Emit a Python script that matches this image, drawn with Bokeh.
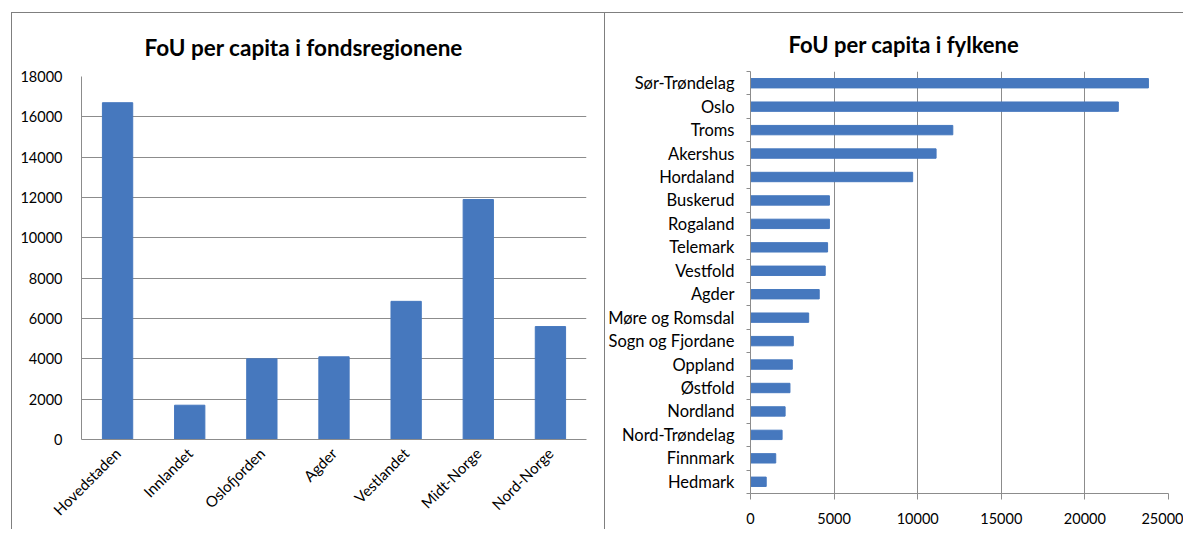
import math
from bokeh.plotting import figure
from bokeh.layouts import row, column
from bokeh.models import FactorRange, Range1d, FixedTicker
from bokeh.embed import file_html
from bokeh.resources import INLINE

# ---- data ----
regions = ["Hovedstaden", "Innlandet", "Oslofjorden", "Agder", "Vestlandet", "Midt-Norge", "Nord-Norge"]
region_values = [16700, 1700, 4000, 4100, 6850, 11900, 5600]
region_ticks = [0, 2000, 4000, 6000, 8000, 10000, 12000, 14000, 16000, 18000]

counties = ["Sør-Trøndelag", "Oslo", "Troms", "Akershus", "Hordaland", "Buskerud", "Rogaland",
            "Telemark", "Vestfold", "Agder", "Møre og Romsdal", "Sogn og Fjordane", "Oppland",
            "Østfold", "Nordland", "Nord-Trøndelag", "Finnmark", "Hedmark"]
county_values = [23800, 22000, 12100, 11100, 9700, 4720, 4720, 4610, 4470, 4110, 3480, 2560,
                 2500, 2360, 2070, 1890, 1510, 940]
county_ticks = [0, 5000, 10000, 15000, 20000, 25000]

BLUE = "#4678BE"
GRID = "#8C8C8C"
BORDER = "#7F7F7F"
FONT = "Lato"

# ---- left chart ----
p1 = figure(x_range=FactorRange(*regions), y_range=Range1d(0, 18000),
            width=594, height=517, output_backend="svg", toolbar_location=None,
            min_border_left=69, min_border_right=20, min_border_top=63, min_border_bottom=91,
            styles={"border-left": f"1px solid {BORDER}", "border-top": f"1px solid {BORDER}",
                    "border-right": f"1px solid {BORDER}"})
p1.vbar(x=regions, top=region_values, width=0.42, color=BLUE)
p1.title.text = "FoU per capita i fondsregionene"
p1.title.align = "left"
p1.title.offset = 63
p1.title.standoff = 32
p1.title.text_font = FONT
p1.title.text_font_size = "22.5px"
p1.title.text_font_style = "bold"
p1.title.text_color = "#000000"
p1.outline_line_color = None
p1.xgrid.grid_line_color = None
p1.ygrid.grid_line_color = GRID
p1.yaxis.ticker = FixedTicker(ticks=region_ticks)
p1.yaxis.major_tick_line_color = None
p1.yaxis.minor_tick_line_color = None
p1.yaxis.axis_line_color = GRID
p1.yaxis.major_label_standoff = 13
p1.xaxis.major_tick_line_color = None
p1.xaxis.axis_line_color = GRID
p1.xaxis.major_label_orientation = math.pi / 4
p1.xaxis.major_label_standoff = 5
p1.yaxis.major_label_text_font_size = "14.5px"
p1.xaxis.major_label_text_font_size = "15px"
for ax in (p1.xaxis, p1.yaxis):
    ax.major_label_text_font = FONT
    ax.major_label_text_color = "#000000"

# ---- right chart ----
n = len(counties)
ys = [n - i - 0.5 for i in range(n)]
p2 = figure(x_range=Range1d(0, 25000), y_range=Range1d(0, n),
            width=578, height=517, output_backend="svg", toolbar_location=None,
            min_border_left=140, min_border_right=15, min_border_top=58, min_border_bottom=37,
            styles={"border-top": f"1px solid {BORDER}"})
p2.hbar(y=ys, right=county_values, left=0, height=0.4, color=BLUE)
p2.title.text = "FoU per capita i fylkene"
p2.title.align = "left"
p2.title.offset = 38
p2.title.standoff = 28
p2.title.text_font = FONT
p2.title.text_font_size = "22px"
p2.title.text_font_style = "bold"
p2.title.text_color = "#000000"
p2.outline_line_color = None
p2.ygrid.grid_line_color = None
p2.xgrid.grid_line_color = GRID
p2.xaxis.ticker = FixedTicker(ticks=county_ticks)
p2.xaxis.axis_line_color = GRID
p2.xaxis.major_tick_line_color = GRID
p2.xaxis.major_tick_out = 6
p2.xaxis.major_tick_in = 0
p2.xaxis.minor_tick_line_color = None
p2.xaxis.major_label_standoff = 13
p2.yaxis.ticker = FixedTicker(ticks=ys, minor_ticks=list(range(n + 1)))
p2.yaxis.major_label_overrides = {y: c for y, c in zip(ys, counties)}
p2.yaxis.axis_line_color = GRID
p2.yaxis.major_tick_line_color = None
p2.yaxis.major_tick_out = 0
p2.yaxis.minor_tick_line_color = GRID
p2.yaxis.minor_tick_out = 4
p2.yaxis.minor_tick_in = 0
p2.yaxis.major_label_standoff = 12
p2.xaxis.major_label_text_font_size = "14.5px"
p2.yaxis.major_label_text_font_size = "16.5px"
for ax in (p2.xaxis, p2.yaxis):
    ax.major_label_text_font = FONT
    ax.major_label_text_color = "#000000"

layout = row(column(p1, margin=(12, 0, 0, 11)), column(p2, margin=(12, 0, 0, 0)))
open("out.html", "w").write(file_html(layout, INLINE))
